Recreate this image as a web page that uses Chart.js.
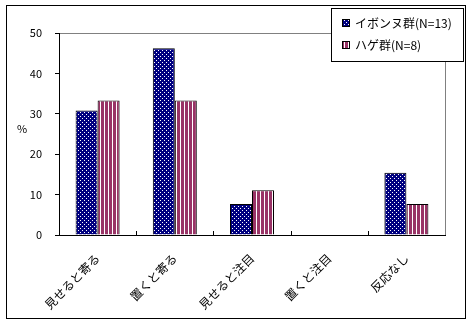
<!DOCTYPE html>
<html>
<head>
<meta charset="utf-8">
<script src="https://cdn.jsdelivr.net/npm/chart.js@4"></script>
<style>
  html, body { margin: 0; padding: 0; background: #fff; }
  #wrap { width: 472px; height: 325px; position: relative; }
</style>
</head>
<body>
<div id="wrap"><canvas id="barChart"></canvas></div>
<script>
const categories = ['見せると寄る', '置くと寄る', '見せると注目', '置くと注目', '反応なし'];
const seriesNames = ['イボンヌ群(N=13)', 'ハゲ群(N=8)'];
const ibonneValues = [30.8, 46.2, 7.7, 0, 15.4];
const hageValues = [33.3, 33.3, 11.1, 0, 7.7];
const yTicks = [0, 10, 20, 30, 40, 50];

const FONT = '"Noto Sans CJK JP", "Noto Sans", sans-serif';

function makePattern(kind) {
    const c = document.createElement('canvas');
    c.width = 4; c.height = 4;
    const g = c.getContext('2d');
    if (kind === 'dots') {
        g.fillStyle = '#000080';
        g.fillRect(0, 0, 4, 4);
        g.fillStyle = '#ffffff';
        g.fillRect(0, 0, 1, 1);
        g.fillRect(2, 2, 1, 1);
    } else {
        g.fillStyle = '#ffffff';
        g.fillRect(0, 0, 4, 4);
        g.fillStyle = '#993366';
        g.fillRect(1, 0, 3, 4);
    }
    return g.createPattern(c, 'repeat');
}

const dotFill = makePattern('dots');
const stripeFill = makePattern('stripes');

// frame, gray plot border, inner x ticks, "%" label and boxed legend
const decorations = {
    id: 'decorations',
    beforeDraw(chart) {
        const ctx = chart.ctx;
        const a = chart.chartArea;
        ctx.save();
        ctx.fillStyle = '#fff';
        ctx.fillRect(0, 0, chart.width, chart.height);
        ctx.strokeStyle = '#808080';
        ctx.lineWidth = 1;
        ctx.beginPath();
        ctx.moveTo(a.left, a.top + 0.5);
        ctx.lineTo(a.right + 0.5, a.top + 0.5);
        ctx.lineTo(a.right + 0.5, a.bottom);
        ctx.stroke();
        ctx.restore();
    },
    afterDraw(chart) {
        const ctx = chart.ctx;
        const a = chart.chartArea;
        const xs = chart.scales.x;
        ctx.save();
        ctx.strokeStyle = '#000';
        ctx.lineWidth = 1;

        // category boundary ticks pointing into the plot
        const step = (a.right - a.left) / categories.length;
        ctx.beginPath();
        for (let i = 1; i < categories.length; i++) {
            const x = Math.round(xs.getPixelForValue(i) - step / 2) + 0.5;
            ctx.moveTo(x, a.bottom);
            ctx.lineTo(x, a.bottom - 4);
        }
        ctx.stroke();

        // outer frame
        ctx.strokeRect(6.5, 5.5, 459, 313);

        // "%" axis label
        ctx.fillStyle = '#000';
        ctx.font = '11px ' + FONT;
        ctx.textAlign = 'center';
        ctx.textBaseline = 'middle';
        ctx.fillText('%', 22, 129);

        // legend box
        ctx.fillStyle = '#fff';
        ctx.fillRect(331, 8, 132, 53);
        ctx.strokeRect(331.5, 8.5, 132, 53);
        const rows = [23, 45];
        chart.data.datasets.forEach((ds, i) => {
            const y = rows[i];
            ctx.fillStyle = ds.backgroundColor;
            ctx.fillRect(343, y - 3, 6, 6);
            ctx.strokeRect(342.5, y - 3.5, 7, 7);
            ctx.fillStyle = '#000';
            ctx.font = '12px ' + FONT;
            ctx.textAlign = 'left';
            ctx.fillText(ds.label, 355, y);
        });
        ctx.restore();
    }
};

const ctxBar = document.getElementById('barChart').getContext('2d');
const barChart = new Chart(ctxBar, {
    type: 'bar',
    data: {
        labels: categories,
        datasets: [{
            label: seriesNames[0],
            data: ibonneValues,
            backgroundColor: dotFill,
            borderColor: '#000',
            borderWidth: 1,
            borderSkipped: 'bottom',
            barPercentage: 1,
            categoryPercentage: 0.57,
        }, {
            label: seriesNames[1],
            data: hageValues,
            backgroundColor: stripeFill,
            borderColor: '#000',
            borderWidth: 1,
            borderSkipped: 'bottom',
            barPercentage: 1,
            categoryPercentage: 0.57,
        }],
    },
    options: {
        responsive: true,
        maintainAspectRatio: false,
        animation: false,
        layout: { padding: { left: 0, right: 27, top: 33, bottom: 0 } },
        plugins: {
            legend: { display: false },
            tooltip: { enabled: false },
        },
        scales: {
            x: {
                grid: { display: false },
                border: { color: '#000', width: 1 },
                ticks: {
                    color: '#000',
                    font: { family: FONT, size: 12 },
                    minRotation: 45,
                    maxRotation: 45,
                    padding: 8,
                    autoSkip: false,
                },
                afterFit(scale) { scale.height = 90; },
            },
            y: {
                min: 0,
                max: 50,
                afterBuildTicks(scale) { scale.ticks = yTicks.map(v => ({ value: v })); },
                grid: { display: true, drawOnChartArea: false, tickLength: 4, color: '#000' },
                border: { color: '#000', width: 1 },
                ticks: {
                    color: '#000',
                    font: { family: FONT, size: 11 },
                    padding: 13,
                },
                afterFit(scale) { scale.width = 59; },
            },
        },
    },
    plugins: [decorations],
});
</script>
</body>
</html>
